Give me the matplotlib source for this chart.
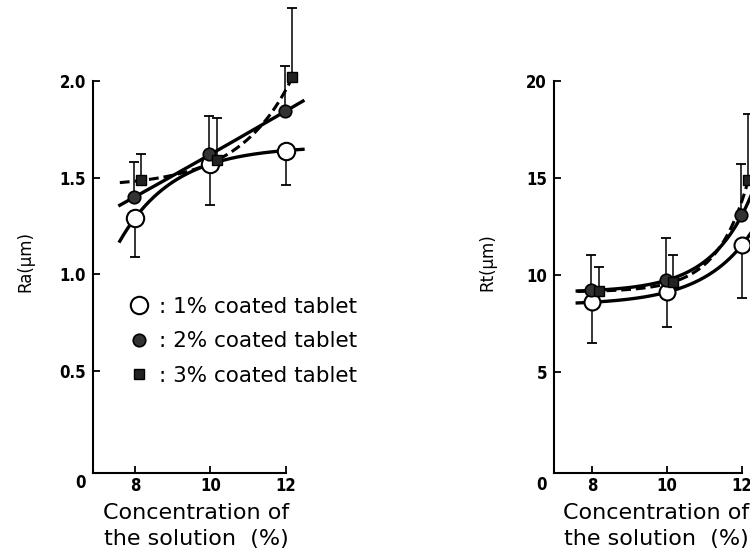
import matplotlib
matplotlib.use("Agg")
import matplotlib.pyplot as plt
import numpy as np

# concentration of the coating solution (%)
conc = np.array([8, 10, 12])

# Ra (um), 1/2/3 % coated tablets
ra_1 = [1.29, 1.57, 1.64]
ra_1_low = [1.09, 1.36, 1.46]
ra_2 = [1.40, 1.62, 1.845]
ra_2_high = [1.58, 1.82, 2.08]
ra_3 = [1.485, 1.59, 2.02]
ra_3_high = [1.62, 1.81, 2.38]

# Rt (um)
rt_1 = [8.6, 9.12, 11.55]
rt_1_low = [6.5, 7.33, 8.81]
rt_2 = [9.21, 9.74, 13.1]
rt_2_high = [11.05, 11.92, 15.7]
rt_3 = [9.18, 9.65, 14.9]
rt_3_high = [10.43, 11.03, 18.3]

legend_labels = [": 1% coated tablet", ": 2% coated tablet", ": 3% coated tablet"]
xlabel = "Concentration of\nthe solution  (%)"

plt.rcParams["font.family"] = "DejaVu Sans"


def smooth(xs, ys, xx):
    # exponential trend curve through three equally spaced points
    d1 = ys[1] - ys[0]
    d2 = ys[2] - ys[1]
    r = d2 / d1
    t = (xx - xs[0]) / (xs[1] - xs[0])
    if abs(r - 1) < 1e-6:
        return ys[0] + d1 * t
    b = d1 / (r - 1)
    return ys[0] - b + b * r ** t


def panel(ax, s1, lo1, s2, hi2, s3, hi3, ylim, yticks, yfmt, ms_open, xend):
    off = 0.17
    xx = np.linspace(7.6, xend, 200)
    ax.plot(xx, smooth(conc, s1, xx), color="black", lw=2.4, clip_on=False, zorder=2)
    ax.plot(xx, smooth(conc, s2, xx), color="black", lw=2.4, clip_on=False, zorder=2)
    xx3 = np.linspace(7.6, min(xend, 12 + off), 200)
    ax.plot(xx3, smooth(conc + off, s3, xx3), color="black", lw=2.2,
            ls=(0, (3.2, 1.6)), clip_on=False, zorder=2)

    s1, s2, s3 = np.array(s1), np.array(s2), np.array(s3)
    ek = dict(fmt="none", ecolor="black", elinewidth=1.1, capsize=3.5, capthick=1.3,
              clip_on=False, zorder=3)
    ax.errorbar(conc, s1, yerr=[s1 - np.array(lo1), np.zeros(3)], **ek)
    ax.errorbar(conc - 0.03, s2, yerr=[np.zeros(3), np.array(hi2) - s2], **ek)
    ax.errorbar(conc + off, s3, yerr=[np.zeros(3), np.array(hi3) - s3], **ek)

    ax.plot(conc, s1, "o", ms=ms_open, mfc="white", mec="black", mew=1.5,
            clip_on=False, zorder=4)
    ax.plot(conc - 0.03, s2, "o", ms=9, mfc="#333333", mec="black", mew=1.2,
            clip_on=False, zorder=4)
    ax.plot(conc + off, s3, "s", ms=7.5, mfc="#222222", mec="black", mew=1,
            clip_on=False, zorder=4)

    ax.set_ylim(*ylim)
    ax.set_yticks(yticks)
    ax.set_yticklabels([yfmt.format(v) for v in yticks])
    ax.set_xticks(conc)
    ax.set_xticklabels([str(v) for v in conc])
    for side in ("top", "right"):
        ax.spines[side].set_visible(False)
    for side in ("left", "bottom"):
        ax.spines[side].set_linewidth(1.5)
    ax.tick_params(direction="in", length=5, width=1.3, pad=3)
    ax.tick_params(axis="y", pad=5)
    for lab in ax.get_xticklabels() + ax.get_yticklabels():
        lab.set_fontweight("bold")
        lab.set_fontstretch("condensed")
        lab.set_fontsize(12)
    ax.annotate("0", xy=(0, 0), xycoords=("axes fraction", "data"), xytext=(-5, -5),
                textcoords="offset points", ha="right", va="top", fontsize=12,
                fontweight="bold", fontstretch="condensed")


fig = plt.figure(figsize=(7.5, 5.56), dpi=100)
W, H = 750, 556

ax1 = fig.add_axes([93 / W, 1 - 473 / H, 193 / W, 392 / H])
ax1.set_xlim(6.89, 12.0)
panel(ax1, ra_1, ra_1_low, ra_2, ra_2_high, ra_3, ra_3_high,
      (-0.03, 2.0), [0.5, 1.0, 1.5, 2.0], "{:.1f}", 12.5, 12.45)

ax2 = fig.add_axes([554 / W, 1 - 473 / H, 188 / W, 392 / H])
ax2.set_xlim(6.98, 12.0)
panel(ax2, rt_1, rt_1_low, rt_2, rt_2_high, rt_3, rt_3_high,
      (-0.2, 20), [5, 10, 15, 20], "{:d}", 11.5, 12.6)

# legend inside the Ra panel
h1, = ax1.plot([], [], "o", ms=12.5, mfc="white", mec="black", mew=1.5)
h2, = ax1.plot([], [], "o", ms=9, mfc="#333333", mec="black", mew=1.2)
h3, = ax1.plot([], [], "s", ms=7.5, mfc="#222222", mec="black", mew=1)
ax1.legend([h1, h2, h3], legend_labels, loc="upper left",
           bbox_to_anchor=(0.19, 0.45), frameon=False, fontsize=15.5,
           handlelength=0.9, handletextpad=0.45, labelspacing=0.68, borderpad=0,
           borderaxespad=0)

fig.text(25 / W, 1 - 262 / H, "Ra(μm)", rotation=90, ha="center", va="center", fontsize=12)
fig.text(487 / W, 1 - 262 / H, "Rt(μm)", rotation=90, ha="center", va="center", fontsize=12)
fig.text(196 / W, 1 - 526 / H, xlabel, ha="center", va="center", fontsize=16,
         linespacing=1.35)
fig.text(656 / W, 1 - 526 / H, xlabel, ha="center", va="center", fontsize=16,
         linespacing=1.35)

fig.savefig("out.png", dpi=100)
